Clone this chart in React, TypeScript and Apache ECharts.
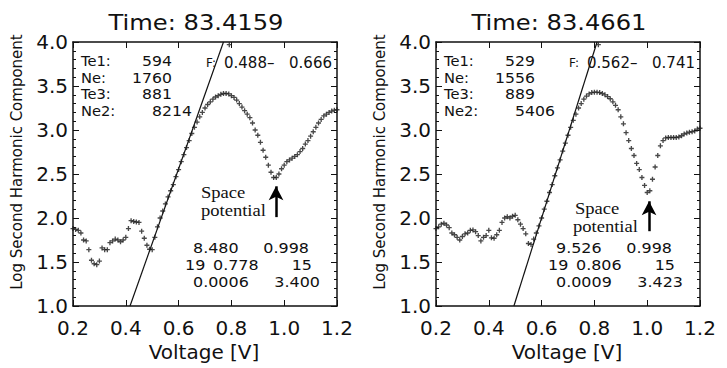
import React, { useEffect, useRef } from "react";
import * as echarts from "echarts";

// ---------- data ----------
const voltage = [
  0.2, 0.21, 0.22, 0.23, 0.24, 0.25, 0.26, 0.27, 0.28, 0.29,
  0.3, 0.31, 0.32, 0.33, 0.34, 0.35, 0.36, 0.37, 0.38, 0.39,
  0.4, 0.41, 0.42, 0.43, 0.44, 0.45, 0.46, 0.47, 0.48, 0.49,
  0.5, 0.51, 0.52, 0.53, 0.54, 0.55, 0.56, 0.57, 0.58, 0.59,
  0.6, 0.61, 0.62, 0.63, 0.64, 0.65, 0.66, 0.67, 0.68, 0.69,
  0.7, 0.71, 0.72, 0.73, 0.74, 0.75, 0.76, 0.77, 0.78, 0.79,
  0.8, 0.81, 0.82, 0.83, 0.84, 0.85, 0.86, 0.87, 0.88, 0.89,
  0.9, 0.91, 0.92, 0.93, 0.94, 0.95, 0.96, 0.97, 0.98, 0.99,
  1.0, 1.01, 1.02, 1.03, 1.04, 1.05, 1.06, 1.07, 1.08, 1.09,
  1.1, 1.11, 1.12, 1.13, 1.14, 1.15, 1.16, 1.17, 1.18, 1.19, 1.2,
];

const logSH1 = [
  1.88, 1.87, 1.86, 1.83, 1.75, 1.74, 1.64, 1.52, 1.48, 1.47,
  1.51, 1.66, 1.64, 1.64, 1.72, 1.74, 1.76, 1.75, 1.73, 1.75,
  1.78, 1.88, 1.97, 1.96, 1.955, 1.95, 1.85, 1.77, 1.69, 1.645,
  1.64, 1.78, 1.9, 2.0, 2.08, 2.16, 2.24, 2.31, 2.38, 2.47,
  2.55, 2.64, 2.72, 2.8, 2.88, 2.96, 3.03, 3.09, 3.15, 3.2,
  3.25, 3.29, 3.32, 3.35, 3.375, 3.39, 3.405, 3.415, 3.415, 3.41,
  3.39, 3.37, 3.34, 3.3, 3.26, 3.22, 3.18, 3.14, 3.08, 3.0,
  2.94, 2.86, 2.77, 2.69, 2.6, 2.52, 2.46, 2.46, 2.5, 2.56,
  2.6, 2.64, 2.66, 2.68, 2.7, 2.72, 2.755, 2.79, 2.84, 2.88,
  2.93, 2.98, 3.03, 3.08, 3.12, 3.16, 3.18, 3.2, 3.215, 3.225, 3.23,
];

const logSH2 = [
  1.88, 1.9, 1.93, 1.94, 1.92, 1.89, 1.83, 1.81, 1.78, 1.75,
  1.79, 1.82, 1.83, 1.86, 1.865, 1.845, 1.8, 1.74, 1.78, 1.8,
  1.86, 1.775, 1.77, 1.81, 1.86, 1.95, 2.0, 2.015, 2.0, 2.02,
  2.03, 1.98, 1.93, 1.88, 1.82, 1.71, 1.7, 1.76, 1.83, 1.91,
  2.0, 2.1, 2.19, 2.29, 2.38, 2.48, 2.57, 2.66, 2.76, 2.85,
  2.94, 3.03, 3.11, 3.18, 3.25, 3.3, 3.35, 3.385, 3.41, 3.425,
  3.43, 3.43, 3.425, 3.415, 3.4, 3.38, 3.355, 3.32, 3.28, 3.23,
  3.15, 3.07, 2.97, 2.88, 2.79, 2.71, 2.62, 2.55, 2.46, 2.37,
  2.29, 2.31, 2.44, 2.58, 2.71, 2.82, 2.88, 2.91, 2.915, 2.915,
  2.915, 2.915, 2.92, 2.935, 2.955, 2.965, 2.975, 2.98, 2.99, 3.01, 3.02,
];

const fitLine1 = [[0.416, 1.0], [0.77, 4.0]];
const fitLine2 = [[0.495, 1.0], [0.81, 4.0]];
const topMark1 = [[0.792, 3.97]];
const topMark2 = [[0.815, 3.97]];
const arrow1 = [[0.969, 2.01], [0.969, 2.36]];
const arrow2 = [[1.007, 1.85], [1.007, 2.19]];

const titles = ["Time: 83.4159", "Time: 83.4661"];
const paramNames = ["Te1:", "Ne:", "Te3:", "Ne2:"];
const paramValues1 = ["594", "1760", "881", "8214"];
const paramValues2 = ["529", "1556", "889", "5406"];
const fRange1 = ["0.488\u2013", "0.666"];
const fRange2 = ["0.562\u2013", "0.741"];
const fitStats1 = [["8.480", "0.998"], ["19", "0.778", "15"], ["0.0006", "3.400"]];
const fitStats2 = [["9.526", "0.998"], ["19", "0.806", "15"], ["0.0009", "3.423"]];

const xLabel = "Voltage [V]";
const yLabel = "Log Second Harmonic Component";
const annotation = ["Space", "potential"];

// ---------- layout ----------
const PANEL_LEFT = [73, 436];
const GRID_TOP = 42;
const GRID_SIZE = 264;
const INK = "#111";
const SANS = '"DejaVu Sans", sans-serif';
const SERIF = '"Liberation Serif", "Times New Roman", serif';

const plusPath = "path://M2.2,0H3.8V2.2H6V3.8H3.8V6H2.2V3.8H0V2.2H2.2Z";

function txt(
  x: number,
  y: number,
  text: string,
  size: number,
  align = "left",
  family = SANS,
  rot = 0,
  sx = 1
) {
  return {
    type: "text",
    x,
    y,
    rotation: rot,
    scaleX: sx,
    silent: true,
    style: {
      text,
      fill: INK,
      fontSize: size,
      fontFamily: family,
      align,
      verticalAlign: "middle",
    },
  };
}

function panelTexts(p: number) {
  const L = PANEL_LEFT[p];
  const values = p === 0 ? paramValues1 : paramValues2;
  const fr = p === 0 ? fRange1 : fRange2;
  const st = p === 0 ? fitStats1 : fitStats2;
  const out: any[] = [];
  out.push(txt(L + 123, 22, titles[p], 22, "center", SANS, 0, 1.1));
  const rows = [61, 78, 94.5, 111];
  paramNames.forEach((n, i) => {
    out.push(txt(L + 8, rows[i], n, 14, "left", SANS, 0, 1.05));
    out.push(txt(L + (i === 3 ? 119 : 99), rows[i], values[i], 14, "right", SANS, 0, 1.12));
  });
  out.push(txt(L + 133, 63, "F:", 12));
  out.push(txt(L + 151, 63, fr[0], 15));
  out.push(txt(L + 259, 63, fr[1], 15, "right"));
  // fit statistics
  const sr = [248, 265, 282];
  const s = 1.1;
  out.push(txt(L + 120, sr[0], st[0][0], 14.5, "left", SANS, 0, s));
  out.push(txt(L + 236, sr[0], st[0][1], 14.5, "right", SANS, 0, s));
  out.push(txt(L + 112, sr[1], st[1][0], 14.5, "left", SANS, 0, s));
  out.push(txt(L + 140, sr[1], st[1][1], 14.5, "left", SANS, 0, s));
  out.push(txt(L + 239, sr[1], st[1][2], 14.5, "right", SANS, 0, s));
  out.push(txt(L + 120, sr[2], st[2][0], 14.5, "left", SANS, 0, s));
  out.push(txt(L + 247, sr[2], st[2][1], 14.5, "right", SANS, 0, s));
  // axis names
  out.push(txt(L + 131, 352, xLabel, 20, "center"));
  out.push(txt(L - 56, 162, yLabel, 15, "center", SANS, Math.PI / 2));
  return out;
}

const annotationTexts = [
  txt(201, 193, annotation[0], 16, "left", SERIF, 0, 1.16),
  txt(201, 211, annotation[1], 16, "left", SERIF, 0, 1.16),
  txt(575, 209, annotation[0], 16, "left", SERIF, 0, 1.16),
  txt(573, 227, annotation[1], 16, "left", SERIF, 0, 1.16),
];

function xAxisDef(grid: number, top: boolean) {
  return {
    type: "value",
    gridIndex: grid,
    position: top ? "top" : "bottom",
    min: 0.2,
    max: 1.2,
    interval: 0.2,
    axisLine: { show: true, onZero: false, lineStyle: { color: INK, width: 1.5 } },
    axisTick: { show: true, inside: true, length: 6, lineStyle: { color: INK, width: 1 } },
    axisLabel: {
      show: !top,
      margin: 12,
      color: INK,
      fontSize: 20,
      fontFamily: SANS,
      formatter: (v: number) => v.toFixed(1),
    },
    splitLine: { show: false },
  };
}

function yAxisDef(grid: number, right: boolean) {
  return {
    type: "value",
    gridIndex: grid,
    position: right ? "right" : "left",
    min: 1,
    max: 4,
    interval: 0.5,
    axisLine: { show: true, onZero: false, lineStyle: { color: INK, width: 1.5 } },
    axisTick: { show: true, inside: true, length: 6, lineStyle: { color: INK, width: 1 } },
    minorTick: { show: true, splitNumber: 5, length: 3, lineStyle: { color: INK, width: 1 } },
    axisLabel: {
      show: !right,
      margin: 5,
      color: INK,
      fontSize: 20,
      fontFamily: SANS,
      formatter: (v: number) => v.toFixed(1),
    },
    splitLine: { show: false },
    minorSplitLine: { show: false },
  };
}

function panelSeries(p: number) {
  const values = p === 0 ? logSH1 : logSH2;
  const fit = p === 0 ? fitLine1 : fitLine2;
  const top = p === 0 ? topMark1 : topMark2;
  const arrow = p === 0 ? arrow1 : arrow2;
  const axis = p * 2;
  return [
    {
      type: "line",
      xAxisIndex: axis,
      yAxisIndex: axis,
      data: fit,
      showSymbol: false,
      symbol: "none",
      lineStyle: { color: INK, width: 1.2 },
      silent: true,
      z: 3,
    },
    {
      type: "scatter",
      xAxisIndex: axis,
      yAxisIndex: axis,
      data: voltage.map((v, i) => [v, values[i]]).concat(top),
      symbol: plusPath,
      symbolSize: 5,
      itemStyle: { color: "#1a1a1a" },
      silent: true,
      z: 4,
      markLine: {
        silent: true,
        symbol: ["none", "arrow"],
        symbolSize: [11, 14],
        label: { show: false },
        lineStyle: { color: "#000", width: 2.5, type: "solid" },
        data: [[{ coord: arrow[0] }, { coord: arrow[1] }]],
      },
    },
  ];
}

export default function App() {
  const ref = useRef<HTMLDivElement>(null);
  useEffect(() => {
    if (!ref.current) return;
    const chart = echarts.init(ref.current, undefined, { renderer: "svg" });
    chart.setOption({
      animation: false,
      backgroundColor: "#fff",
      grid: PANEL_LEFT.map((l) => ({ left: l, top: GRID_TOP, width: GRID_SIZE, height: GRID_SIZE })),
      xAxis: [xAxisDef(0, false), xAxisDef(0, true), xAxisDef(1, false), xAxisDef(1, true)],
      yAxis: [yAxisDef(0, false), yAxisDef(0, true), yAxisDef(1, false), yAxisDef(1, true)],
      series: [...panelSeries(0), ...panelSeries(1)],
      graphic: [...panelTexts(0), ...panelTexts(1), ...annotationTexts],
    });
    return () => chart.dispose();
  }, []);
  return (
    <div
      ref={ref}
      style={{ position: "absolute", left: 0, top: 0, width: 727, height: 368, background: "#fff" }}
    />
  );
}
